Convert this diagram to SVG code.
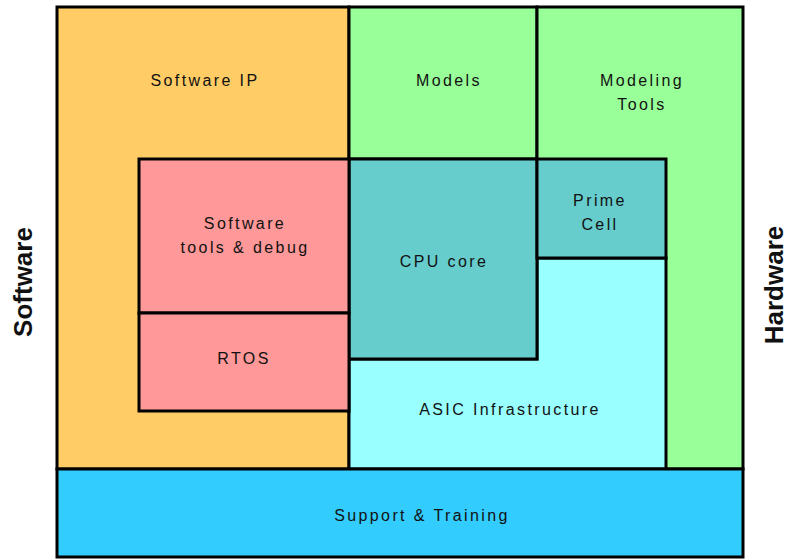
<svg xmlns="http://www.w3.org/2000/svg" width="790" height="560" viewBox="0 0 790 560">
<style>
.b{stroke:#000;stroke-width:3;stroke-linejoin:miter}
.t{font-family:"Liberation Sans",Arial,sans-serif;font-size:16px;letter-spacing:2.4px;fill:#111;text-anchor:middle}
.s{font-family:"Liberation Sans",Arial,sans-serif;font-size:26px;font-weight:bold;fill:#111;text-anchor:middle}
</style>
<rect width="790" height="560" fill="#fff"/>
<g id="software-ip"><rect class="b" x="57" y="7" width="292" height="462" fill="#FFCC66"/><text class="t" x="205" y="86">Software IP</text></g>
<g id="models"><rect class="b" x="349" y="7" width="188" height="152" fill="#99FF99"/><text class="t" x="449" y="86">Models</text></g>
<g id="modeling-tools"><rect class="b" x="537" y="7" width="206" height="462" fill="#99FF99"/><text class="t" x="642" y="86">Modeling</text><text class="t" x="642" y="110">Tools</text></g>
<g id="asic"><polygon class="b" points="349,359 537,359 537,258 666,258 666,469 349,469" fill="#99FFFF"/><text class="t" x="510" y="415">ASIC Infrastructure</text></g>
<g id="cpu-core"><rect class="b" x="349" y="159" width="188" height="200" fill="#66CCCC"/><text class="t" x="444" y="267">CPU core</text></g>
<g id="prime-cell"><rect class="b" x="537" y="159" width="129" height="99" fill="#66CCCC"/><text class="t" x="600" y="206">Prime</text><text class="t" x="600" y="230">Cell</text></g>
<g id="sw-tools"><rect class="b" x="139" y="159" width="210" height="154" fill="#FF9999"/><text class="t" x="245" y="229">Software</text><text class="t" x="245" y="253">tools &amp; debug</text></g>
<g id="rtos"><rect class="b" x="139" y="313" width="210" height="98" fill="#FF9999"/><text class="t" x="244" y="364">RTOS</text></g>
<g id="support"><rect class="b" x="57" y="469" width="686" height="88" fill="#33CCFF"/><text class="t" x="422" y="521">Support &amp; Training</text></g>
<g id="labels">
<text class="s" transform="translate(32,282) rotate(-90)">Software</text>
<text class="s" transform="translate(783,285) rotate(-90)">Hardware</text>
</g>
<g id="connectors"/>
</svg>
